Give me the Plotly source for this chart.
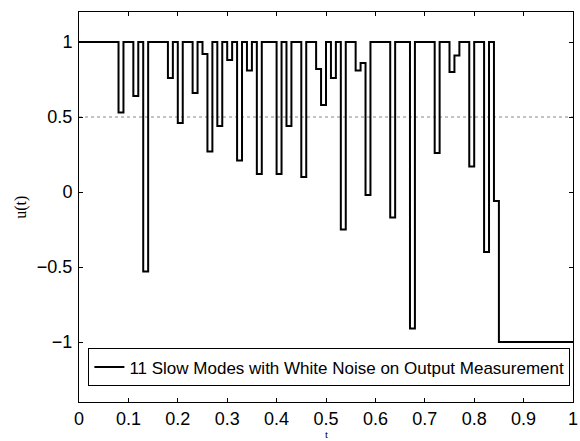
import plotly.graph_objects as go

# segment start times and values of the piecewise-constant input u(t)
t_start = [0.00, 0.08, 0.09, 0.11, 0.12, 0.13, 0.14, 0.18, 0.19, 0.20, 0.21,
           0.23, 0.24, 0.25, 0.26, 0.27, 0.28, 0.29, 0.30, 0.31, 0.32, 0.33,
           0.34, 0.35, 0.36, 0.37, 0.40, 0.41, 0.42, 0.43, 0.45, 0.46, 0.48,
           0.49, 0.50, 0.51, 0.52, 0.53, 0.54, 0.56, 0.57, 0.58, 0.59, 0.63,
           0.64, 0.67, 0.68, 0.72, 0.73, 0.75, 0.76, 0.77, 0.79, 0.80, 0.82,
           0.83, 0.84, 0.85]
u_vals = [1, 0.53, 1, 0.64, 1, -0.53, 1, 0.76, 1, 0.46, 1,
          0.66, 1, 0.92, 0.27, 1, 0.44, 1, 0.88, 1, 0.21, 1,
          0.81, 1, 0.12, 1, 0.12, 1, 0.44, 1, 0.10, 1, 0.82,
          0.58, 1, 0.76, 1, -0.25, 1, 0.81, 0.86, -0.02, 1, -0.17,
          1, -0.91, 1, 0.26, 1, 0.80, 0.91, 1, 0.17, 1, -0.40,
          1, -0.06, -1]
t_end = 1.0
ref_level = 0.5
legend_label = "11 Slow Modes with White Noise on Output Measurement"
x_ticks = [0, 0.1, 0.2, 0.3, 0.4, 0.5, 0.6, 0.7, 0.8, 0.9, 1]
x_ticklabels = ["0", "0.1", "0.2", "0.3", "0.4", "0.5", "0.6", "0.7", "0.8", "0.9", "1"]
y_ticks = [-1, -0.5, 0, 0.5, 1]
y_ticklabels = ["\u22121", "\u22120.5", "0", "0.5", "1"]

x = t_start + [t_end]
y = u_vals + [u_vals[-1]]

fig = go.Figure()
fig.add_trace(go.Scatter(
    x=x, y=y, mode="lines", line=dict(shape="hv", color="black", width=2),
    name=legend_label, showlegend=True))

fig.add_shape(type="line", xref="x", yref="y", x0=0, x1=1, y0=ref_level, y1=ref_level,
              line=dict(color="#888888", width=1, dash="dot"), layer="below")

axis_common = dict(showline=True, linecolor="black", linewidth=1, mirror="allticks",
                   ticks="inside", ticklen=4, tickcolor="black", showgrid=False,
                   zeroline=False, ticklabeloverflow="allow",
                   tickfont=dict(family="Liberation Sans, Arial", size=18, color="black"))

fig.update_xaxes(range=[0, 1], tickvals=x_ticks, ticktext=x_ticklabels,
                 ticklabelstandoff=0, **axis_common)
fig.update_yaxes(range=[-1.4, 1.2], tickvals=y_ticks, ticktext=y_ticklabels,
                 ticklabelstandoff=2, **axis_common)

fig.add_annotation(text="u(t)", xref="paper", yref="paper", x=-0.118, y=0.5,
                   xanchor="center", yanchor="middle",
                   textangle=-90, showarrow=False,
                   font=dict(family="Liberation Serif, Times New Roman", size=16, color="black"))
fig.add_annotation(text="t", xref="paper", yref="paper", x=0.5, y=-0.103, yanchor="bottom",
                   showarrow=False,
                   font=dict(family="Liberation Serif, Times New Roman", size=11, color="black"))

fig.update_layout(
    width=580, height=441,
    margin=dict(l=79, r=2, t=12, b=39),
    plot_bgcolor="white", paper_bgcolor="white",
    legend=dict(x=0.019, y=0.04, xanchor="left", yanchor="bottom",
                bordercolor="black", borderwidth=1, bgcolor="white",
                font=dict(family="Liberation Sans, Arial", size=17, color="black"),
                itemwidth=30, tracegroupgap=0),
)

fig.write_html("out.html")
